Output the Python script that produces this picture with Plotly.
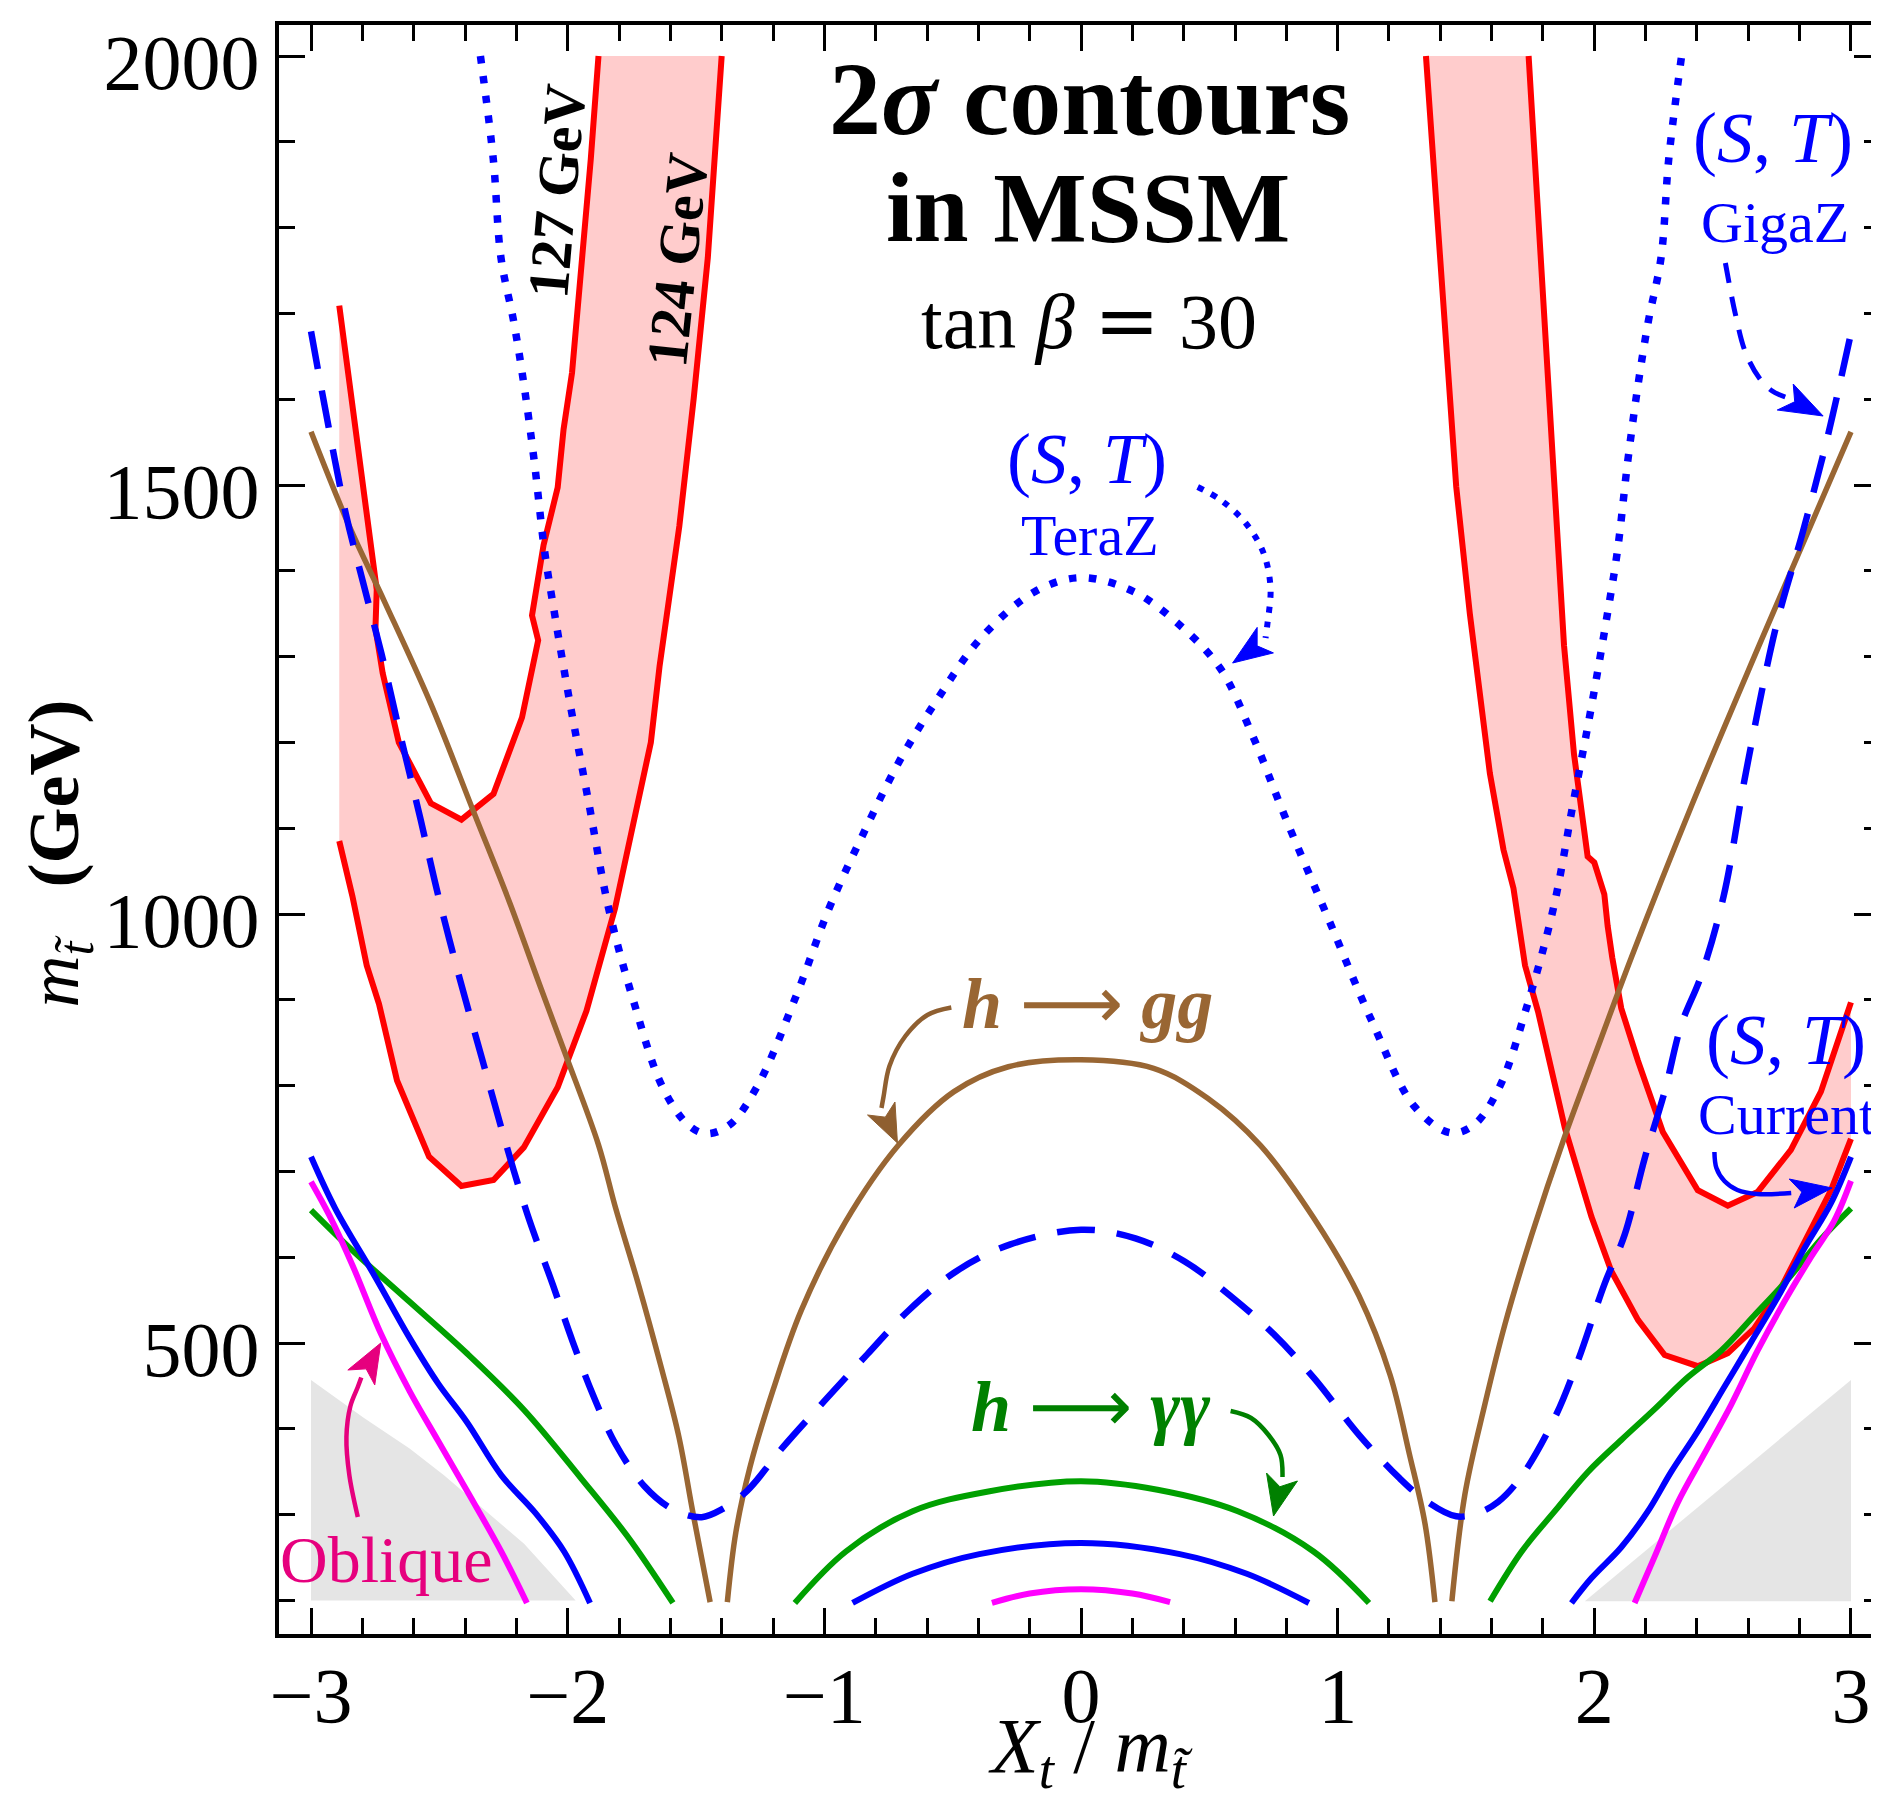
import plotly.graph_objects as go

# ---------------- data ----------------
# Higgs-mass contours (red) and 124-127 GeV band (pink), left side
mh127_left_x = [-2.89, -2.839, -2.804, -2.763, -2.744, -2.749, -2.721, -2.658, -2.533, -2.414, -2.289,
                -2.178, -2.136, -2.115, -2.139, -2.094, -2.039, -2.016, -1.983, -1.941, -1.91, -1.88]
mh127_left_y = [1709, 1594, 1519, 1430, 1378, 1333, 1281, 1200, 1129, 1110, 1140,
                1229, 1289, 1319, 1348, 1430, 1497, 1565, 1631, 1765, 1880, 2000]
mh124_left_x = [-2.89, -2.839, -2.783, -2.735, -2.665, -2.540, -2.414, -2.289, -2.171, -2.039, -1.927,
                -1.816, -1.676, -1.649, -1.642, -1.565, -1.509, -1.454, -1.40]
mh124_left_y = [1085, 1021, 940, 895, 806, 717, 683, 690, 728, 798, 887,
                1006, 1200, 1274, 1289, 1452, 1601, 1765, 2000]
# right side band
mh_right_outer_x = [1.344, 1.384, 1.423, 1.462, 1.515, 1.554, 1.593, 1.646, 1.685, 1.73, 1.781, 1.885,
                    1.989, 2.066, 2.170, 2.274, 2.403, 2.520, 2.623, 2.727, 2.818, 2.922, 3.0]
mh_right_outer_y = [2000, 1833, 1647, 1498, 1350, 1253, 1164, 1075, 1030, 940, 886, 751,
                    647, 584, 527, 486, 473, 488, 517, 564, 616, 678, 738]
mh_right_inner_x = [1.744, 1.777, 1.803, 1.843, 1.882, 1.921, 1.974, 2.0, 2.039, 2.052, 2.07, 2.105,
                    2.170, 2.267, 2.339, 2.403, 2.520, 2.636, 2.766, 2.883, 3.0]
mh_right_inner_y = [2000, 1833, 1684, 1498, 1313, 1186, 1067, 1060, 1023, 986, 949, 890,
                    829, 746, 709, 678, 660, 676, 725, 793, 897]

# (S,T) TeraZ  (dotted)
teraz_x = [-2.34, -2.29, -2.26, -2.21, -2.17, -2.13, -2.09, -2.05, -1.99, -1.92, -1.84, -1.74, -1.63,
           -1.53, -1.46, -1.37, -1.26, -1.108, -0.981, -0.854, -0.706, -0.558, -0.389, -0.178, 0.0,
           0.203, 0.372, 0.541, 0.667, 0.794, 0.963, 1.132, 1.301, 1.44, 1.53, 1.63, 1.74, 1.84,
           1.92, 1.99, 2.05, 2.09, 2.13, 2.17, 2.21, 2.26, 2.29, 2.34]
teraz_y = [2000, 1880, 1765, 1690, 1616, 1527, 1423, 1348, 1244, 1133, 1006, 895, 798,
           754, 744, 754, 800, 906, 1007, 1090, 1179, 1251, 1322, 1376, 1392,
           1376, 1340, 1287, 1209, 1114, 995, 876, 775, 745, 754, 798, 895, 1006,
           1133, 1244, 1348, 1423, 1527, 1616, 1690, 1765, 1880, 2000]

# (S,T) GigaZ  (dashed)
gigaz_x = [-3.0, -2.948, -2.865, -2.796, -2.726, -2.657, -2.573, -2.504, -2.421, -2.337, -2.254, -2.157,
           -2.058, -1.981, -1.902, -1.813, -1.701, -1.59, -1.478, -1.4, -1.3, -1.163, -0.989, -0.832,
           -0.675, -0.484, -0.275, 0.0, 0.212, 0.404, 0.578, 0.752, 0.908, 1.083, 1.239, 1.344, 1.462,
           1.547, 1.626, 1.717, 1.846, 1.937, 2.040, 2.118, 2.196, 2.274, 2.339, 2.416, 2.504, 2.59,
           2.708, 2.813, 2.904, 3.0]
gigaz_y = [1679, 1594, 1467, 1385, 1304, 1215, 1110, 1021, 925, 835, 746, 650,
           568, 502, 440, 382, 333, 306, 297, 306, 328, 378, 436, 487,
           537, 584, 615, 632, 622, 595, 556, 510, 459, 393, 343, 316, 298,
           302, 315, 345, 413, 480, 569, 626, 715, 793, 871, 928, 1021, 1164,
           1335, 1446, 1550, 1677]

# h -> gg (brown), three branches
hgg_left_x = [-3.0, -2.851, -2.712, -2.532, -2.365, -2.227, -2.105, -2.008, -1.88, -1.813, -1.724,
              -1.635, -1.567, -1.512, -1.445]
hgg_left_y = [1562, 1452, 1363, 1244, 1118, 1014, 914, 836, 731, 657, 568, 471, 391, 302, 198]
hgg_mid_x = [-1.378, -1.345, -1.29, -1.20, -1.09, -0.92, -0.71, -0.495, -0.283, 0.0, 0.283, 0.495,
             0.70, 0.908, 1.083, 1.204, 1.28, 1.34, 1.379]
hgg_mid_y = [198, 279, 355, 445, 538, 640, 731, 793, 822, 830, 820, 785,
             730, 645, 555, 463, 370, 290, 198]
hgg_right_x = [1.445, 1.496, 1.574, 1.652, 1.756, 1.885, 2.014, 2.144, 2.38, 2.642, 3.0]
hgg_right_y = [199, 324, 429, 522, 626, 741, 845, 949, 1127, 1313, 1562]

# h -> gamma gamma (green)
hyy_left_x = [-3.0, -2.839, -2.616, -2.393, -2.170, -1.947, -1.768, -1.590]
hyy_left_y = [655, 608, 548, 488, 422, 342, 275, 197]
hyy_mid_x = [-1.115, -0.916, -0.656, -0.361, 0.0, 0.298, 0.611, 0.906, 1.122]
hyy_mid_y = [197, 257, 304, 327, 339, 329, 304, 257, 197]
hyy_right_x = [1.594, 1.717, 1.846, 1.976, 2.105, 2.235, 2.364, 2.494, 2.623, 2.753, 2.883, 3.0]
hyy_right_y = [199, 257, 304, 350, 387, 423, 460, 491, 532, 574, 621, 657]

# (S,T) current (blue solid)
stcur_left_x = [-3.0, -2.906, -2.75, -2.616, -2.505, -2.393, -2.259, -2.126, -2.014, -1.913]
stcur_left_y = [717, 657, 577, 506, 453, 408, 346, 302, 257, 197]
stcur_mid_x = [-0.89, -0.656, -0.396, 0.0, 0.385, 0.646, 0.888]
stcur_mid_y = [197, 231, 254, 267, 254, 231, 197]
stcur_right_x = [1.911, 1.989, 2.105, 2.209, 2.30, 2.403, 2.507, 2.611, 2.714, 2.818, 2.922, 3.0]
stcur_right_y = [197, 226, 262, 304, 350, 397, 449, 501, 553, 610, 663, 717]

# oblique (magenta)
obl_left_x = [-3.0, -2.929, -2.839, -2.728, -2.616, -2.505, -2.393, -2.259, -2.159]
obl_left_y = [688, 649, 591, 511, 444, 386, 328, 257, 197]
obl_mid_x = [-0.347, -0.2, 0.0, 0.2, 0.347]
obl_mid_y = [197, 208, 213, 208, 198]
obl_right_x = [2.157, 2.235, 2.325, 2.429, 2.533, 2.636, 2.740, 2.844, 2.934, 3.0]
obl_right_y = [197, 251, 314, 371, 428, 491, 548, 600, 642, 689]

# excluded (gray) regions
gray_left_x = [-3.0, -2.795, -2.616, -2.482, -2.326, -2.17, -1.969, -3.0]
gray_left_y = [457, 413, 377, 346, 306, 266, 200, 200]
gray_right_x = [1.963, 3.0, 3.0]
gray_right_y = [199, 457, 199]

x_ticks_dtick = 1
y_ticks_dtick = 500

# ---------------- layout geometry ----------------
W, H = 1879, 1798
ML, MR, MT, MB = 271, 3, 17, 172
XR = [-3.1248, 3.1131]
YR = [160.84, 2036.13]
PW, PH = W - ML - MR, H - MT - MB
FONT = "Liberation Serif"

def dx(px):
    return XR[0] + (px - ML) / PW * (XR[1] - XR[0])

def dy(py):
    return YR[1] - (py - MT) / PH * (YR[1] - YR[0])

def px_paper(px, py):
    return (px - ML) / PW, (H - MB - py) / PH

RED, PINK, BLUE = "#FF0000", "#FFCCCC", "#0000FF"
BROWN, GREEN, MAG, GRAY = "#996633", "#00A000", "#FF00FF", "#E5E5E5"

fig = go.Figure()

def poly(xs, ys, color):
    fig.add_trace(go.Scatter(x=xs, y=ys, mode="lines", fill="toself", fillcolor=color,
                             line=dict(width=0, color=color), hoverinfo="skip", showlegend=False))

def curve(xs, ys, color, width, dash="solid", shape="spline"):
    fig.add_trace(go.Scatter(x=xs, y=ys, mode="lines",
                             line=dict(color=color, width=width, dash=dash, shape=shape, smoothing=1.0),
                             hoverinfo="skip", showlegend=False))

# gray regions
poly(gray_left_x, gray_left_y, GRAY)
poly(gray_right_x, gray_right_y, GRAY)
# pink bands
poly(mh127_left_x + mh124_left_x[::-1], mh127_left_y + mh124_left_y[::-1], PINK)
poly(mh_right_outer_x + mh_right_inner_x[::-1], mh_right_outer_y + mh_right_inner_y[::-1], PINK)
# red contours
for xs, ys in [(mh127_left_x, mh127_left_y), (mh124_left_x, mh124_left_y),
               (mh_right_outer_x, mh_right_outer_y), (mh_right_inner_x, mh_right_inner_y)]:
    curve(xs, ys, RED, 6, shape="linear")
# other contours
for xs, ys in [(hgg_left_x, hgg_left_y), (hgg_mid_x, hgg_mid_y), (hgg_right_x, hgg_right_y)]:
    curve(xs, ys, BROWN, 5.5)
for xs, ys in [(hyy_left_x, hyy_left_y), (hyy_mid_x, hyy_mid_y), (hyy_right_x, hyy_right_y)]:
    curve(xs, ys, GREEN, 6)
for xs, ys in [(obl_left_x, obl_left_y), (obl_mid_x, obl_mid_y), (obl_right_x, obl_right_y)]:
    curve(xs, ys, MAG, 6)
for xs, ys in [(stcur_left_x, stcur_left_y), (stcur_mid_x, stcur_mid_y), (stcur_right_x, stcur_right_y)]:
    curve(xs, ys, BLUE, 6)
curve(gigaz_x, gigaz_y, BLUE, 6.5, dash="38px,22px")
curve(teraz_x, teraz_y, BLUE, 7.5, dash="7.5px,12.5px")

# ---------------- curved arrows (annotation decoration, pixel geometry) ----------------
def arrow(body_px, tip, c1, c2, color, width, dash="solid"):
    bx = [dx(p[0]) for p in body_px]
    by = [dy(p[1]) for p in body_px]
    fig.add_trace(go.Scatter(x=bx, y=by, mode="lines",
                             line=dict(color=color, width=width, dash=dash, shape="spline"),
                             hoverinfo="skip", showlegend=False))
    mx, my = (c1[0] + c2[0]) / 2, (c1[1] + c2[1]) / 2
    nx, ny = mx + 0.25 * (tip[0] - mx), my + 0.25 * (tip[1] - my)
    pts = [tip, c1, (nx, ny), c2, tip]
    fig.add_trace(go.Scatter(x=[dx(p[0]) for p in pts], y=[dy(p[1]) for p in pts], mode="lines",
                             fill="toself", fillcolor=color, line=dict(width=1, color=color),
                             hoverinfo="skip", showlegend=False))

arrow([(1192, 479), (1215, 492), (1240, 515), (1258, 545), (1265, 580), (1262, 615), (1260, 630)],
      (1227, 655), (1251.6, 619.4), (1267.9, 644.9), BLUE, 6, dash="6px,9px")
arrow([(1721, 255), (1731, 306), (1741, 344), (1755, 370), (1768, 383), (1781, 389)],
      (1819, 408), (1773, 402), (1789, 376), BLUE, 5, dash="20px,14px")
arrow([(1710, 1144), (1712, 1160), (1720, 1173), (1733, 1182), (1753, 1186), (1787, 1185)],
      (1828, 1180), (1785, 1171), (1790, 1200), BLUE, 4.5)
arrow([(945, 999.5), (921, 1007), (899, 1028), (883, 1058), (877, 1089), (875, 1100)],
      (891, 1135), (861, 1107), (888.5, 1094), "#8F5F30", 4.5)
arrow([(1225, 1403), (1245.5, 1410), (1263, 1427), (1275, 1447), (1277, 1469)],
      (1268, 1508), (1261, 1465), (1292, 1473), "#008000", 4.5)
arrow([(350, 1509), (341.5, 1467), (338.6, 1429), (342.6, 1398), (350, 1379), (353.5, 1369.5)],
      (373, 1335), (340, 1362), (367, 1377), "#E6007E", 4.5)

# ---------------- text ----------------
def text(s, px, py, size, color="black", angle=0):
    xp, yp = px_paper(px, py)
    fig.add_annotation(text=s, x=xp, y=yp, xref="paper", yref="paper", showarrow=False,
                       xanchor="center", yanchor="middle", textangle=angle,
                       font=dict(family=FONT, size=size, color=color))

ARW = "<span style='font-family:DejaVu Sans;font-weight:normal'>\u27f6</span>"
EQ = "<span style='font-family:DejaVu Serif'>=</span>"
ST = "(<i>S</i>, <i>T</i>)"
text("<b>2<i>σ</i> contours</b>", 1084, 90, 104)
text("<b>in MSSM</b>", 1082, 200, 99)
text("tan <i>β</i> " + EQ + " 30", 1083, 313, 78)
text(ST, 1081, 451, 72, BLUE)
text("TeraZ", 1084, 527, 58, BLUE)
text(ST, 1769, 130, 72, BLUE)
text("GigaZ", 1771, 214, 58, BLUE)
text(ST, 1782, 1032, 72, BLUE)
text("Current", 1782, 1107, 58, BLUE)
text("<b><i>h</i></b> " + ARW + " <b><i>gg</i></b>", 1082, 995, 72, BROWN)
text("<b><i>h</i></b> " + ARW + " <b><i>γγ</i></b>", 1085, 1398, 72, "#008000")
text("Oblique", 379, 1551, 66, "#E6007E")
text("<b>127 GeV</b>", 550, 183, 58, angle=-85)
text("<b>124 GeV</b>", 671, 252, 58, angle=-84)
# axis titles
text("<i>X</i><sub><i>t</i></sub> / <i>m</i><sub><i>t\u0303</i></sub>", 1085, 1743, 78)
text("<i>m</i><sub><i>t\u0303</i></sub>\u2002 <b>(GeV)</b>", 50, 846, 72, angle=-90)

axis_common = dict(showline=True, linewidth=4, linecolor="black", mirror="allticks",
                   ticks="inside", ticklen=26, tickwidth=3, tickcolor="black",
                   showgrid=False, zeroline=False,
                   tickfont=dict(family=FONT, size=78, color="black"))
fig.update_xaxes(range=XR, tick0=0, dtick=x_ticks_dtick, ticklabelstandoff=-10,
                 minor=dict(ticks="inside", ticklen=16, tickwidth=3, tickcolor="black",
                            dtick=0.2, tick0=0, showgrid=False),
                 **axis_common)
fig.update_yaxes(range=YR, tick0=0, dtick=y_ticks_dtick, ticklabelshift=6,
                 minor=dict(ticks="inside", ticklen=16, tickwidth=3, tickcolor="black",
                            dtick=100, tick0=0, showgrid=False),
                 **axis_common)
fig.update_layout(width=W, height=H, margin=dict(l=ML, r=MR, t=MT, b=MB, pad=0),
                  paper_bgcolor="white", plot_bgcolor="white", showlegend=False,
                  font=dict(family=FONT))
fig.write_html("out.html")
